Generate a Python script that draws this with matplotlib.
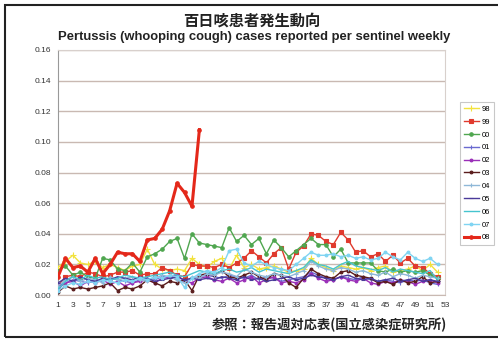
import numpy as np
import matplotlib
matplotlib.use('Agg')
import matplotlib.pyplot as plt
from matplotlib.patches import Rectangle

# weekly cases per sentinel
weeks = np.arange(1, 53)
s98 = [0.018, 0.022, 0.026, 0.021, 0.020, 0.022, 0.018, 0.020, 0.018, 0.016, 0.019, 0.020, 0.030,
       0.020, 0.017, 0.016, 0.017, 0.016, 0.024, 0.020, 0.018, 0.022, 0.024, 0.017, 0.026, 0.018,
       0.020, 0.017, 0.018, 0.019, 0.017, 0.015, 0.016, 0.017, 0.024, 0.020, 0.018, 0.016, 0.019,
       0.018, 0.017, 0.018, 0.016, 0.018, 0.019, 0.015, 0.016, 0.017, 0.019, 0.016, 0.020, 0.015]
s99 = [0.006, 0.012, 0.013, 0.012, 0.015, 0.014, 0.012, 0.013, 0.015, 0.015, 0.016, 0.013, 0.014,
       0.014, 0.018, 0.016, 0.013, 0.012, 0.020, 0.019, 0.019, 0.018, 0.020, 0.018, 0.021, 0.024,
       0.029, 0.025, 0.021, 0.027, 0.031, 0.017, 0.028, 0.032, 0.040, 0.039, 0.035, 0.033, 0.041,
       0.036, 0.028, 0.029, 0.025, 0.027, 0.022, 0.026, 0.021, 0.024, 0.019, 0.018, 0.014, 0.012]
s00 = [0.016, 0.019, 0.013, 0.015, 0.012, 0.011, 0.024, 0.023, 0.017, 0.016, 0.021, 0.015, 0.025,
       0.027, 0.030, 0.035, 0.037, 0.024, 0.040, 0.034, 0.033, 0.032, 0.031, 0.044, 0.035, 0.039,
       0.033, 0.037, 0.027, 0.036, 0.031, 0.025, 0.029, 0.033, 0.037, 0.033, 0.033, 0.025, 0.030,
       0.021, 0.021, 0.021, 0.021, 0.016, 0.015, 0.017, 0.015, 0.016, 0.015, 0.016, 0.013, 0.011]
s01 = [0.004, 0.008, 0.010, 0.009, 0.008, 0.010, 0.009, 0.011, 0.010, 0.009, 0.008, 0.010, 0.011,
       0.010, 0.012, 0.012, 0.010, 0.009, 0.011, 0.012, 0.013, 0.012, 0.011, 0.013, 0.012, 0.011,
       0.013, 0.010, 0.012, 0.011, 0.009, 0.010, 0.011, 0.012, 0.015, 0.013, 0.011, 0.010, 0.012,
       0.011, 0.010, 0.012, 0.010, 0.009, 0.010, 0.009, 0.008, 0.010, 0.009, 0.010, 0.008, 0.007]
s02 = [0.006, 0.008, 0.009, 0.006, 0.009, 0.008, 0.010, 0.007, 0.009, 0.006, 0.008, 0.009, 0.010,
       0.008, 0.011, 0.012, 0.013, 0.009, 0.008, 0.011, 0.012, 0.010, 0.009, 0.011, 0.008, 0.010,
       0.012, 0.008, 0.010, 0.012, 0.008, 0.009, 0.008, 0.010, 0.014, 0.011, 0.009, 0.010, 0.012,
       0.010, 0.009, 0.011, 0.008, 0.007, 0.009, 0.008, 0.010, 0.009, 0.007, 0.009, 0.010, 0.008]
s03 = [0.002, 0.006, 0.004, 0.005, 0.004, 0.005, 0.006, 0.008, 0.003, 0.005, 0.004, 0.006, 0.010,
       0.008, 0.006, 0.009, 0.008, 0.010, 0.003, 0.013, 0.014, 0.013, 0.016, 0.012, 0.011, 0.013,
       0.015, 0.012, 0.010, 0.014, 0.013, 0.008, 0.005, 0.011, 0.017, 0.014, 0.012, 0.011, 0.015,
       0.016, 0.013, 0.012, 0.011, 0.008, 0.009, 0.007, 0.010, 0.008, 0.009, 0.012, 0.008, 0.009]
s04 = [0.006, 0.010, 0.012, 0.009, 0.011, 0.010, 0.008, 0.012, 0.010, 0.011, 0.012, 0.010, 0.009,
       0.011, 0.013, 0.012, 0.010, 0.008, 0.012, 0.011, 0.014, 0.013, 0.015, 0.014, 0.012, 0.017,
       0.015, 0.013, 0.012, 0.014, 0.013, 0.012, 0.014, 0.016, 0.022, 0.019, 0.017, 0.016, 0.018,
       0.017, 0.015, 0.016, 0.014, 0.013, 0.015, 0.012, 0.014, 0.013, 0.011, 0.013, 0.012, 0.011]
s05 = [0.008, 0.011, 0.009, 0.012, 0.010, 0.009, 0.011, 0.010, 0.012, 0.011, 0.010, 0.012, 0.011,
       0.009, 0.010, 0.011, 0.012, 0.010, 0.011, 0.010, 0.011, 0.010, 0.012, 0.011, 0.010, 0.012,
       0.010, 0.011, 0.009, 0.010, 0.011, 0.012, 0.010, 0.011, 0.013, 0.012, 0.011, 0.010, 0.012,
       0.013, 0.011, 0.010, 0.011, 0.009, 0.010, 0.011, 0.009, 0.010, 0.011, 0.009, 0.010, 0.009]
s06 = [0.004, 0.009, 0.012, 0.010, 0.013, 0.011, 0.012, 0.010, 0.011, 0.013, 0.012, 0.011, 0.012,
       0.013, 0.014, 0.015, 0.013, 0.012, 0.014, 0.016, 0.015, 0.014, 0.016, 0.017, 0.015, 0.016,
       0.018, 0.015, 0.017, 0.016, 0.015, 0.014, 0.016, 0.018, 0.023, 0.020, 0.019, 0.017, 0.020,
       0.022, 0.019, 0.018, 0.017, 0.016, 0.018, 0.015, 0.017, 0.016, 0.015, 0.014, 0.016, 0.010]
s07 = [0.003, 0.006, 0.008, 0.007, 0.009, 0.008, 0.010, 0.009, 0.008, 0.010, 0.009, 0.011, 0.010,
       0.012, 0.011, 0.013, 0.012, 0.005, 0.011, 0.014, 0.016, 0.015, 0.018, 0.029, 0.030, 0.021,
       0.019, 0.022, 0.020, 0.018, 0.017, 0.016, 0.020, 0.024, 0.028, 0.026, 0.026, 0.027, 0.025,
       0.026, 0.024, 0.025, 0.023, 0.024, 0.028, 0.025, 0.023, 0.028, 0.024, 0.022, 0.024, 0.020]
s08 = [0.012, 0.024, 0.018, 0.019, 0.015, 0.024, 0.014, 0.020, 0.028, 0.027, 0.027, 0.022, 0.036,
       0.037, 0.043, 0.055, 0.073, 0.067, 0.058, 0.108]

labels = ['98', '99', '00', '01', '02', '03', '04', '05', '06', '07', '08']
yticks = [0.00, 0.02, 0.04, 0.06, 0.08, 0.10, 0.12, 0.14, 0.16]
xticks = list(range(1, 54, 2))

# colour, marker, markersize, linewidth per year
styles = [
    ('#f2e23c', '+', 4, 1.0),
    ('#e03a2e', 's', 2.5, 1.0),
    ('#4fa64f', 'o', 2.5, 1.0),
    ('#6a6ad0', '|', 3, 1.0),
    ('#9a2fb8', 'o', 2, 1.0),
    ('#5a1c1c', 'o', 2, 1.0),
    ('#8fb8d8', '+', 3, 1.0),
    ('#4a3a9a', '_', 3, 1.0),
    ('#45c4cf', None, 0, 1.0),
    ('#7fd4f2', 'o', 2, 1.0),
    ('#e4281a', 'o', 2.5, 2.2),
]
series = [s98, s99, s00, s01, s02, s03, s04, s05, s06, s07, s08]

jp = ['Noto Sans CJK JP', 'DejaVu Sans']
plt.rcParams['font.family'] = ['Liberation Sans', 'DejaVu Sans']

fig = plt.figure(figsize=(4.98, 3.40), dpi=100)
fig.patch.set_facecolor('white')
ax = fig.add_axes([0.1165, 0.132, 0.777, 0.721])

for s, (c, m, ms, lw), lab in zip(series, styles, labels):
    ax.plot(weeks[:len(s)], s, color=c, marker=m, markersize=ms, linewidth=lw,
            markeredgewidth=0.8, label=lab, zorder=3 if lab != '08' else 5)

ax.set_xlim(1, 53)
ax.set_ylim(0, 0.16)
ax.set_yticks(yticks)
ax.set_yticklabels(['%.2f' % v for v in yticks], fontsize=6, color='#333333')
ax.set_xticks(xticks)
ax.set_xticklabels([str(v) for v in xticks], fontsize=6, color='#333333')
ax.tick_params(length=0, pad=5)
ax.yaxis.grid(True, color='#c9b9b2', linewidth=1.0)
ax.set_axisbelow(True)
for k in ['top', 'right']:
    ax.spines[k].set_color('#d8d0cc')
ax.spines['left'].set_color('#999999')
ax.spines['bottom'].set_color('#c9b9b2')

leg = fig.legend(loc='upper left', bbox_to_anchor=(0.916, 0.712), fontsize=5.5,
                 handlelength=2.0, handletextpad=0.3, labelspacing=0.72,
                 borderpad=0.5, frameon=True, fancybox=False)
leg.get_frame().set_edgecolor('#bbbbbb')
leg.get_frame().set_linewidth(0.8)

fig.text(0.506, 0.94, '百日咳患者発生動向', family=jp, fontsize=11, fontweight='bold',
         ha='center', va='center', color='#222222')
fig.text(0.511, 0.89, 'Pertussis (whooping cough) cases reported per sentinel weekly',
         fontsize=9.4, fontweight='bold', ha='center', va='center', color='#222222')
fig.text(0.898, 0.044, '参照：報告週対応表(国立感染症研究所)', family=jp, fontsize=9.5,
         fontweight='bold', ha='right', va='center', color='#222222')

fig.patches.append(Rectangle((0.010, 0.009), 1.0, 0.976, transform=fig.transFigure,
                             fill=False, edgecolor='#222222', linewidth=1.5))

fig.savefig('out.png', dpi=100)
